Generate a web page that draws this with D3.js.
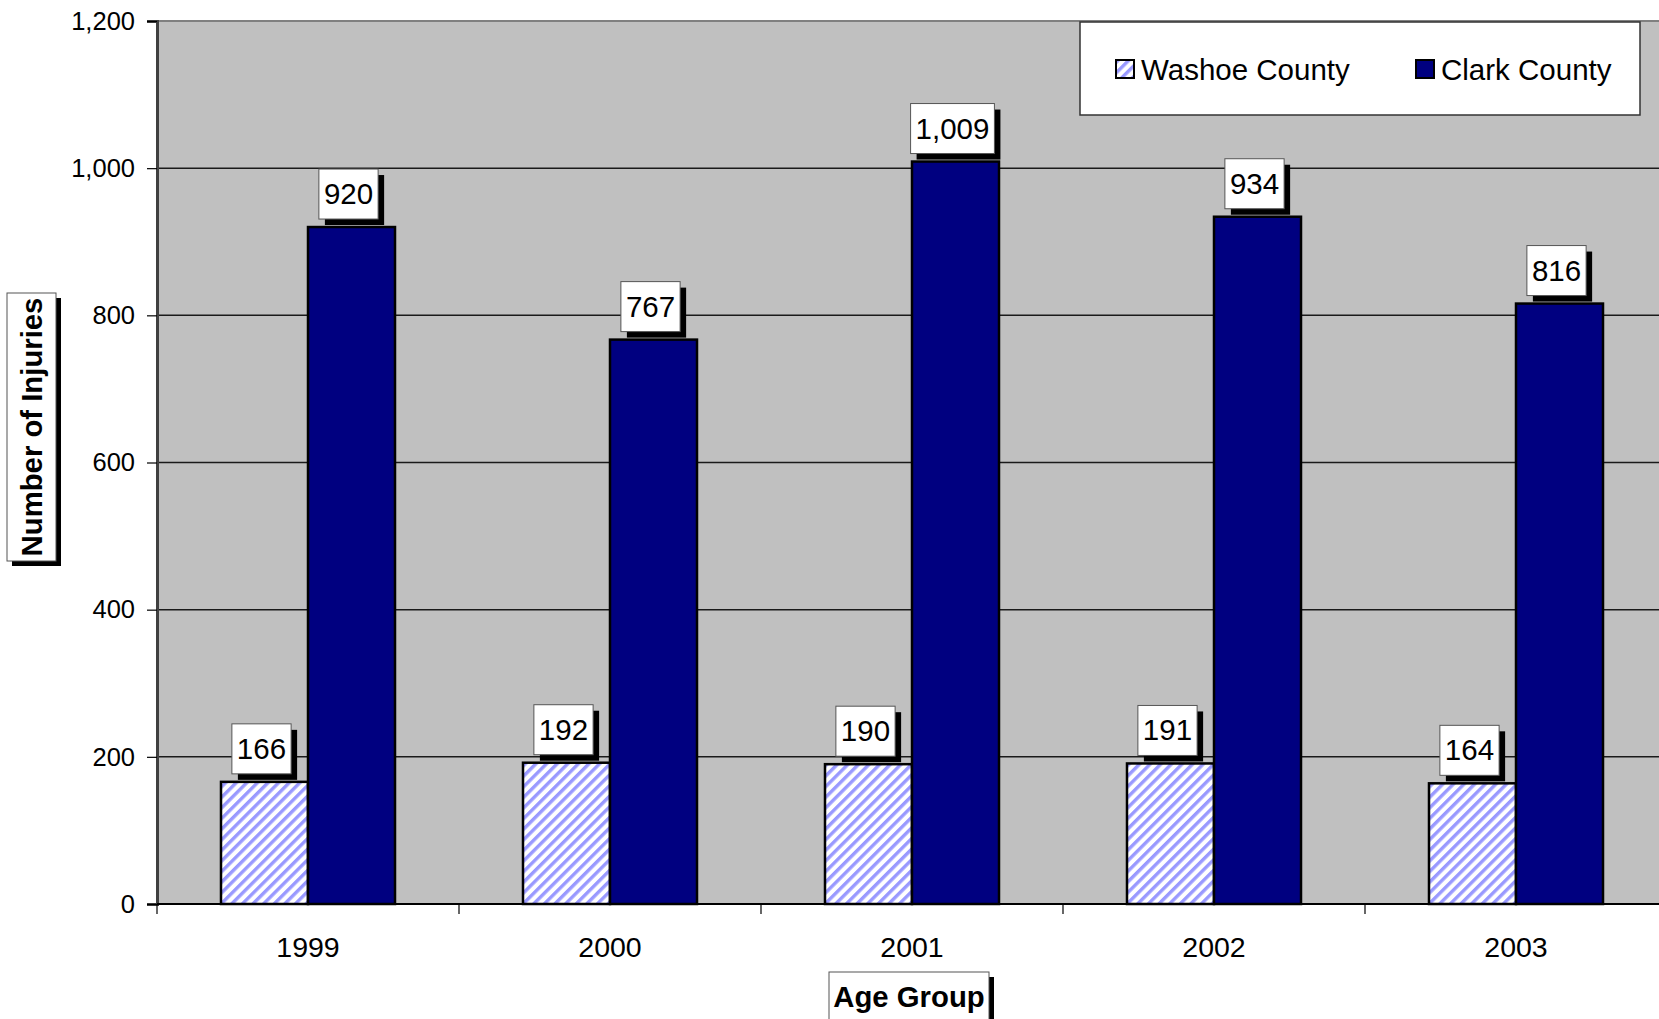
<!DOCTYPE html>
<html lang="en">
<head>
<meta charset="UTF-8" />
<title>Number of Injuries</title>
<script src="https://d3js.org/d3.v7.min.js"></script>
<style>
  body { margin: 0; background: #fff; }
  svg { display: block; font-family: "Liberation Sans", Arial, sans-serif; }
</style>
</head>
<body>
<div id="chart"></div>
<script>
// data
var years = ["1999", "2000", "2001", "2002", "2003"];
var washoe = [166, 192, 190, 191, 164];
var clark = [920, 767, 1009, 934, 816];
var seriesNames = ["Washoe County", "Clark County"];
var yTicks = [0, 200, 400, 600, 800, 1000, 1200];

var width = 1659, height = 1019;
var plotLeft = 157, plotTop = 21, plotBottom = 904;
var plotRight = 1667; // plot runs a bit past the right edge

var svg = d3.select("#chart").append("svg")
  .attr("width", width)
  .attr("height", height);

// diagonal hatch for Washoe
var defs = svg.append("defs");
var pat = defs.append("pattern")
  .attr("id", "hatch")
  .attr("patternUnits", "userSpaceOnUse")
  .attr("width", 7.5).attr("height", 7.5)
  .attr("patternTransform", "rotate(45)");
pat.append("rect").attr("width", 7.5).attr("height", 7.5).attr("fill", "#fff");
pat.append("rect").attr("width", 3.4).attr("height", 7.5).attr("fill", "#9999ff");

// scales
var x0 = d3.scaleBand().domain(years).range([plotLeft, plotRight])
  .paddingInner(0.4238).paddingOuter(0.2119);
var x1 = d3.scaleBand().domain(seriesNames).range([0, x0.bandwidth()]);
var y = d3.scaleLinear().domain([0, 1200]).range([plotBottom, plotTop]);

// plot background
svg.append("rect")
  .attr("x", plotLeft).attr("y", plotTop)
  .attr("width", plotRight - plotLeft).attr("height", plotBottom - plotTop)
  .attr("fill", "#c0c0c0");
svg.append("line")
  .attr("x1", plotLeft).attr("x2", plotRight)
  .attr("y1", plotTop).attr("y2", plotTop)
  .attr("stroke", "#808080").attr("stroke-width", 2);

// gridlines
svg.append("g").selectAll("line")
  .data(yTicks.filter(function(d) { return d > 0 && d < 1200; }))
  .enter().append("line")
  .attr("x1", plotLeft).attr("x2", plotRight)
  .attr("y1", function(d) { return y(d); })
  .attr("y2", function(d) { return y(d); })
  .attr("stroke", "#1a1a1a").attr("stroke-width", 1.5);

// y axis
var yAxis = svg.append("g")
  .attr("transform", "translate(" + plotLeft + ",0)")
  .call(d3.axisLeft(y).tickValues(yTicks).tickSize(10).tickPadding(12)
    .tickFormat(d3.format(",")));
yAxis.select(".domain").attr("stroke", "#404040").attr("stroke-width", 3);
yAxis.selectAll(".tick line").attr("stroke", "#000").attr("stroke-width", 1.2);
yAxis.selectAll("text").attr("font-size", 25.5).attr("fill", "#000")
  .attr("font-family", "Liberation Sans, Arial, sans-serif");

// bars
var rows = years.map(function(yr, i) {
  return { year: yr, values: [
    { key: seriesNames[0], value: washoe[i] },
    { key: seriesNames[1], value: clark[i] }
  ] };
});

var groups = svg.append("g").selectAll("g")
  .data(rows).enter().append("g")
  .attr("transform", function(d) { return "translate(" + x0(d.year) + ",0)"; });

groups.selectAll("rect")
  .data(function(d) { return d.values; })
  .enter().append("rect")
  .attr("x", function(d) { return x1(d.key); })
  .attr("y", function(d) { return y(d.value); })
  .attr("width", x1.bandwidth())
  .attr("height", function(d) { return plotBottom - y(d.value); })
  .attr("fill", function(d) { return d.key === seriesNames[0] ? "url(#hatch)" : "#000080"; })
  .attr("stroke", "#000").attr("stroke-width", 2.5);

// value labels in boxes with shadow
var fmt = d3.format(",");
var labels = groups.selectAll("g.lab")
  .data(function(d) { return d.values; })
  .enter().append("g").attr("class", "lab");

labels.each(function(d) {
  var g = d3.select(this);
  var txt = fmt(d.value);
  var cx = x1(d.key) + x1.bandwidth() / 2 - 3;
  var t = g.append("text")
    .attr("x", cx).attr("text-anchor", "middle")
    .attr("font-size", 29.5).text(txt);
  var tw = t.node().getComputedTextLength();
  var bw = tw + 10, bh = 50;
  var by = y(d.value) - 8 - bh;
  g.insert("rect", "text")
    .attr("x", cx - bw / 2 + 6).attr("y", by + 6)
    .attr("width", bw).attr("height", bh).attr("fill", "#000");
  g.insert("rect", "text")
    .attr("x", cx - bw / 2).attr("y", by)
    .attr("width", bw).attr("height", bh)
    .attr("fill", "#fff").attr("stroke", "#555").attr("stroke-width", 1);
  t.attr("y", by + bh / 2 + 10);
});

// x axis
svg.append("line")
  .attr("x1", plotLeft).attr("x2", plotRight)
  .attr("y1", plotBottom).attr("y2", plotBottom)
  .attr("stroke", "#000").attr("stroke-width", 2);

var step = x0.step(), gap = (step - x0.bandwidth()) / 2;
svg.append("g").selectAll("line")
  .data(years).enter().append("line")
  .attr("x1", function(d) { return x0(d) - gap; })
  .attr("x2", function(d) { return x0(d) - gap; })
  .attr("y1", plotBottom).attr("y2", plotBottom + 10)
  .attr("stroke", "#000").attr("stroke-width", 1.2);

svg.append("g").selectAll("text")
  .data(years).enter().append("text")
  .attr("x", function(d) { return x0(d) + x0.bandwidth() / 2; })
  .attr("y", 957)
  .attr("text-anchor", "middle")
  .attr("font-size", 28.5)
  .text(function(d) { return d; });

// axis titles in boxes
function titleBox(x, yy, w, h) {
  svg.append("rect").attr("x", x + 5).attr("y", yy + 5)
    .attr("width", w).attr("height", h).attr("fill", "#000");
  svg.append("rect").attr("x", x).attr("y", yy)
    .attr("width", w).attr("height", h)
    .attr("fill", "#fff").attr("stroke", "#555").attr("stroke-width", 1);
}
titleBox(829, 972, 160, 60);
svg.append("text")
  .attr("x", 909).attr("y", 1007)
  .attr("text-anchor", "middle")
  .attr("font-size", 29.3).attr("font-weight", "bold")
  .text("Age Group");

titleBox(7, 293, 49, 268);
svg.append("text")
  .attr("transform", "translate(42,427) rotate(-90)")
  .attr("text-anchor", "middle")
  .attr("font-size", 29.3).attr("font-weight", "bold")
  .text("Number of Injuries");

// legend
var legend = svg.append("g");
legend.append("rect")
  .attr("x", 1080).attr("y", 22)
  .attr("width", 560).attr("height", 93)
  .attr("fill", "#fff").attr("stroke", "#333").attr("stroke-width", 1.5);

var legX = [1116, 1416];
var items = legend.selectAll("g.item")
  .data(seriesNames).enter().append("g").attr("class", "item")
  .attr("transform", function(d, i) { return "translate(" + legX[i] + ",60)"; });
items.append("rect")
  .attr("width", 18).attr("height", 18)
  .attr("fill", function(d, i) { return i === 0 ? "url(#hatch)" : "#000080"; })
  .attr("stroke", "#000").attr("stroke-width", 2);
items.append("text")
  .attr("x", 25).attr("y", 20)
  .attr("font-size", 29.5)
  .text(function(d) { return d; });
</script>
</body>
</html>
